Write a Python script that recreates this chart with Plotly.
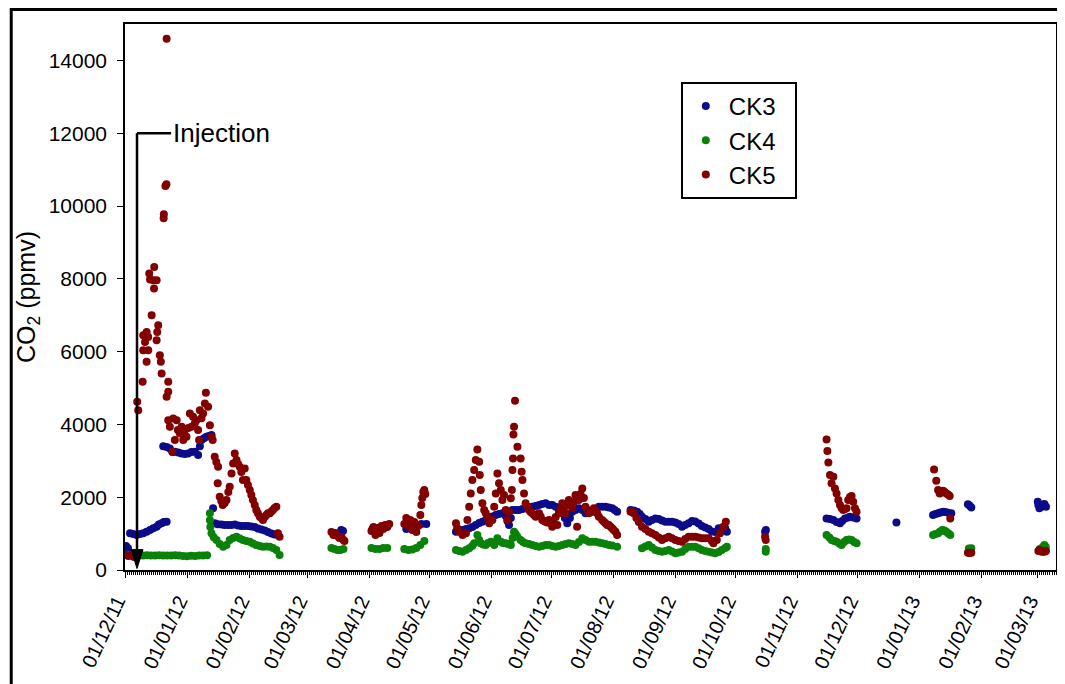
import pandas as pd
import plotly.graph_objects as go

# CO2 soil gas at CK3 / CK4 / CK5
# each point: (days after 01/12/2011, ppmv)
start = pd.Timestamp("2011-12-01")

ck3 = [
    (0.5, 660), (1.5, 600), (2.5, 1007), (4.1, 990), (5.8, 960), (7.5, 990), (9.1, 1007),
    (10.8, 1050), (12.5, 1098), (14.1, 1145), (15.8, 1189), (16.9, 1250), (18.3, 1281),
    (19.4, 1318), (20.8, 1327),
    (19.1, 3400), (20.8, 3376), (22.4, 3340), (23.7, 3240), (24.9, 3248), (26.6, 3225),
    (28.2, 3203), (29.9, 3185), (31.5, 3203), (33.2, 3240), (34.9, 3248), (36.5, 3157),
    (37.4, 3400), (38.2, 3569), (39.4, 3620), (40.7, 3660), (41.9, 3680), (43.2, 3706),
    (44.0, 1693), (44.8, 1281), (46.3, 1260), (48.2, 1250), (49.8, 1235), (51.5, 1235),
    (53.2, 1235), (54.8, 1250), (56.5, 1220), (58.1, 1208), (59.8, 1208), (61.4, 1208),
    (63.1, 1195), (64.8, 1180), (66.4, 1140), (68.1, 1110), (69.8, 1085), (71.4, 1043),
    (73.1, 1000), (74.7, 975), (76.4, 961),
    (108.0, 1098), (108.9, 1070),
    (123.6, 1125), (126.1, 1153), (128.5, 1180), (131.0, 1208),
    (140.5, 1125), (143.0, 1180), (145.5, 1208), (148.0, 1263), (150.5, 1263),
    (165.3, 1052), (166.9, 1070), (168.6, 1098), (170.3, 1125), (171.9, 1144), (173.5, 1180),
    (175.2, 1235), (176.9, 1290), (178.5, 1327), (180.2, 1373), (181.9, 1418), (183.5, 1470),
    (185.2, 1510), (186.8, 1537), (188.5, 1556), (190.2, 1482), (191.0, 1345), (191.8, 1235),
    (192.7, 1427), (193.5, 1647), (195.2, 1647), (196.8, 1647), (198.5, 1675), (200.1, 1693),
    (201.8, 1715), (203.4, 1738), (205.1, 1757), (206.8, 1784), (208.4, 1812), (210.1, 1831),
    (211.8, 1784), (213.4, 1784), (215.1, 1738), (216.7, 1647), (218.4, 1556), (219.7, 1427),
    (220.9, 1281), (222.2, 1427), (223.4, 1601), (225.0, 1647), (226.7, 1693), (228.4, 1647),
    (230.0, 1556), (231.7, 1578), (233.3, 1601), (235.0, 1675), (236.7, 1738), (238.3, 1738),
    (240.0, 1738), (241.7, 1715), (243.3, 1693), (244.6, 1647), (245.8, 1601),
    (252.5, 1647), (254.1, 1633), (255.8, 1601), (257.1, 1537), (258.2, 1464), (259.9, 1400),
    (261.6, 1327), (263.2, 1373), (264.9, 1418), (266.6, 1400), (268.2, 1360), (269.9, 1327),
    (271.6, 1327), (273.2, 1327), (274.9, 1305), (276.5, 1263), (278.2, 1189), (279.8, 1235),
    (281.5, 1281), (283.2, 1345), (284.8, 1330), (286.5, 1276), (288.1, 1208), (289.8, 1167),
    (291.5, 1125), (293.1, 1057), (294.8, 1043), (296.5, 1144), (298.1, 1144), (299.8, 1144),
    (300.6, 1052),
    (319.7, 1052), (320.1, 1098),
    (350.4, 1418), (352.1, 1400), (353.8, 1373), (355.4, 1318), (357.1, 1281), (358.2, 1345),
    (359.6, 1418), (361.2, 1441), (362.1, 1464), (363.7, 1441), (365.4, 1418),
    (385.3, 1308),
    (403.6, 1510), (404.8, 1537), (406.1, 1556), (407.3, 1578), (408.6, 1601), (409.8, 1592),
    (411.1, 1573), (412.7, 1556),
    (421.0, 1803), (421.8, 1770), (422.7, 1720),
    (455.9, 1875), (456.2, 1784), (456.7, 1693), (457.5, 1729), (458.4, 1784), (459.2, 1812),
    (460.0, 1738),
]

ck4 = [
    (1, 420), (3, 400), (5, 410), (7, 395), (9, 400), (11, 405), (13, 395), (15, 400),
    (17, 405), (19, 400), (21, 395), (23, 400), (25, 405), (27, 395), (29, 385), (31, 380),
    (33, 390), (35, 385), (37, 395), (39, 400), (41, 405),
    (42.4, 1560), (42.4, 1370), (42.6, 1180), (43.2, 1007), (44.3, 900), (45.7, 824),
    (47.3, 714), (49.0, 640), (50.7, 686), (52.3, 824), (54.0, 880), (55.7, 915), (57.3, 865),
    (58.9, 824), (60.6, 796), (62.3, 778), (63.9, 730), (65.6, 686), (67.3, 660), (68.9, 640),
    (70.6, 645), (72.3, 640), (73.9, 604), (75.6, 549), (77.2, 412),
    (103.1, 604), (104.6, 576), (106.1, 549), (107.6, 549), (109.1, 576),
    (123.1, 604), (125.1, 576), (127.1, 576), (129.0, 604), (131.0, 604),
    (139.5, 576), (141.5, 549), (143.5, 563), (145.5, 604), (147.5, 686), (149.5, 796),
    (165.3, 549), (166.9, 520), (168.6, 503), (170.3, 549), (171.9, 595), (173.4, 660),
    (174.4, 732), (176.0, 961), (176.9, 824), (177.7, 732), (178.9, 700), (180.2, 686),
    (181.4, 741), (182.7, 778), (184.4, 686), (186.0, 870), (187.7, 778), (188.8, 741),
    (190.2, 732), (191.3, 714), (192.7, 686), (193.6, 878), (194.3, 1052), (195.1, 988),
    (196.0, 915), (197.6, 824), (198.8, 769), (200.1, 732), (201.8, 714), (203.4, 686),
    (205.1, 660), (206.8, 640), (208.4, 660), (210.1, 686), (211.8, 686), (213.4, 660),
    (215.1, 640), (216.7, 660), (218.4, 686), (220.1, 714), (221.7, 732), (223.4, 714),
    (225.0, 686), (226.7, 769), (228.4, 870), (230.0, 824), (231.7, 778), (233.3, 778),
    (235.0, 778), (236.7, 755), (238.3, 732), (240.0, 714), (241.7, 686), (243.3, 673),
    (245.8, 640),
    (258.2, 595), (259.9, 645), (261.6, 686), (263.2, 618), (264.9, 549), (266.6, 522),
    (268.2, 503), (269.9, 522), (271.6, 549), (273.2, 508), (274.9, 458), (276.5, 480),
    (278.2, 503), (279.8, 576), (281.5, 640), (283.2, 640), (284.8, 640), (286.5, 595),
    (288.1, 549), (289.8, 522), (291.5, 503), (293.1, 480), (294.8, 458), (296.5, 494),
    (298.1, 549), (299.8, 604), (300.6, 640),
    (320.0, 503), (320.0, 576),
    (350.4, 961), (351.8, 892), (352.9, 824), (354.2, 796), (355.4, 778), (356.8, 727),
    (357.9, 686), (359.2, 769), (360.4, 824), (361.7, 837), (362.9, 824), (364.2, 769),
    (365.4, 732),
    (403.6, 961), (404.8, 988), (406.1, 1007), (407.1, 1057), (408.2, 1098), (409.3, 1085),
    (410.2, 1052), (411.3, 1002), (412.2, 961),
    (421.5, 590), (422.7, 595),
    (456.9, 576), (458.4, 631), (459.2, 686), (459.9, 631),
]

ck5 = [
    (0.5, 410), (1.7, 385), (3.3, 412), (4.5, 357),
    (6.1, 4620), (6.6, 4392), (8.8, 5169), (9.1, 6039), (9.1, 6451), (10.0, 6267),
    (10.8, 6541), (10.8, 5718), (11.6, 6404), (11.6, 6039), (12.1, 8144), (12.5, 7980),
    (13.3, 7000), (14.1, 7961), (14.6, 8326), (14.5, 7733), (15.8, 7961), (15.8, 6313),
    (16.1, 6541), (16.6, 6725), (17.4, 5902), (17.9, 5718), (18.3, 5400), (19.3, 9662),
    (19.4, 9772), (20.2, 10549), (20.7, 10595), (20.8, 14595), (20.8, 4757), (21.6, 5169),
    (21.6, 4894), (21.6, 4117), (22.4, 3934), (23.7, 3248), (24.1, 4164), (24.9, 3569),
    (25.8, 4117), (26.4, 3843), (27.4, 3752), (28.3, 3934), (29.1, 3569), (29.9, 3843),
    (30.7, 3660), (31.6, 3898), (32.4, 4301), (33.2, 3934), (34.0, 4209), (34.9, 4035),
    (35.7, 4117), (36.5, 3843), (37.0, 3569), (37.4, 4392), (38.2, 4172), (39.0, 4301),
    (39.9, 4576), (40.4, 4867), (41.5, 4484), (42.4, 3980), (43.2, 3660), (43.8, 3569),
    (44.8, 3110), (45.6, 2965), (46.5, 2836), (46.3, 2383), (47.3, 2012), (48.1, 1894),
    (48.8, 1784), (49.8, 1839), (50.7, 1921), (51.6, 2141), (52.3, 2287), (53.2, 2654),
    (54.0, 2929), (54.8, 3203), (55.7, 3020), (56.5, 2910), (57.3, 2836), (58.1, 2690),
    (58.9, 2471), (59.8, 2791), (60.6, 2471), (61.4, 2333), (62.3, 2196), (63.1, 2059),
    (63.9, 1921), (64.8, 1784), (65.6, 1647), (66.4, 1556), (67.3, 1464), (68.1, 1427),
    (68.9, 1373), (69.8, 1455), (70.6, 1510), (71.4, 1556), (72.3, 1556), (73.1, 1606),
    (73.9, 1647), (74.7, 1702), (75.6, 1738), (76.4, 1007), (77.2, 915),
    (103.1, 1043), (104.1, 961), (105.1, 1016), (106.1, 933), (107.1, 878), (108.1, 906),
    (109.1, 824), (109.6, 796),
    (123.1, 1070), (124.1, 1180), (125.1, 961), (126.1, 1098), (127.1, 1016), (128.1, 1208),
    (129.0, 1125), (130.0, 1235), (131.0, 1180), (132.0, 1263),
    (139.5, 1263), (140.5, 1427), (141.5, 1208), (142.5, 1373), (143.5, 1098), (144.5, 1318),
    (145.5, 1043), (146.5, 1208), (147.5, 1510), (148.0, 1784), (148.5, 1976), (149.0, 2141),
    (149.5, 2196), (150.0, 2086),
    (165.3, 1281), (165.9, 1153), (166.9, 1052), (168.6, 961), (170.3, 1007), (171.0, 1373),
    (171.9, 1738), (172.7, 2105), (173.5, 2471), (174.4, 2745), (175.2, 3020), (176.0, 3313),
    (176.9, 2973), (177.2, 2608), (177.7, 2196), (178.5, 1831), (179.4, 1647), (180.2, 1556),
    (181.0, 1464), (181.9, 1281), (183.5, 1373), (184.4, 1738), (185.2, 2105), (186.0, 2654),
    (186.8, 2380), (187.7, 2196), (188.5, 1921), (189.3, 2059), (190.2, 1647), (191.0, 1373),
    (191.8, 1592), (192.7, 1968), (193.2, 2196), (193.5, 2745), (193.8, 3066), (194.0, 3725),
    (194.3, 3934), (194.8, 4648), (196.0, 3385), (197.6, 3066), (198.1, 2700), (198.5, 2471),
    (199.3, 2105), (200.1, 1831), (201.0, 1729), (201.8, 1647), (202.6, 1592), (203.4, 1556),
    (204.3, 1510), (205.1, 1464), (205.9, 1510), (206.8, 1556), (207.6, 1468), (208.4, 1373),
    (209.3, 1345), (210.1, 1327), (210.9, 1305), (211.8, 1373), (212.6, 1281), (213.4, 1189),
    (214.3, 1281), (215.1, 1455), (215.9, 1235), (216.7, 1556), (217.6, 1702), (218.4, 1831),
    (219.2, 1702), (220.1, 1556), (220.9, 1784), (221.7, 1921), (222.5, 1812), (223.4, 1693),
    (224.2, 1867), (225.0, 2059), (225.8, 1189), (226.7, 1921), (227.5, 2086), (228.4, 2242),
    (229.2, 1976), (230.0, 1738), (230.9, 1647), (231.7, 1556), (232.9, 1620), (234.2, 1693),
    (235.0, 1620), (235.8, 1556), (236.7, 1464), (238.3, 1373), (239.2, 1327), (240.0, 1281),
    (240.8, 1235), (241.7, 1235), (242.5, 1189), (243.3, 1144), (244.1, 1098), (245.0, 1052),
    (245.8, 961),
    (252.5, 1601), (253.3, 1592), (254.1, 1556), (255.4, 1427), (256.6, 1318), (258.2, 1189),
    (259.9, 1125), (261.6, 1052), (263.2, 1007), (264.9, 961), (266.6, 892), (268.2, 824),
    (269.9, 870), (271.6, 915), (273.2, 870), (274.9, 824), (276.5, 796), (278.2, 778),
    (279.8, 851), (281.5, 915), (283.2, 915), (284.8, 915), (286.5, 892), (288.1, 870),
    (289.8, 870), (291.5, 870), (293.1, 796), (293.9, 732), (295.6, 824), (297.2, 1007),
    (298.9, 1189), (300.1, 1327),
    (319.7, 915), (320.0, 824),
    (350.4, 3587), (350.8, 3267), (351.3, 2956), (352.1, 2608), (352.9, 2380), (353.8, 2562),
    (354.6, 2242), (355.4, 2105), (356.3, 1921), (357.1, 1784), (357.9, 1702), (358.7, 1647),
    (359.6, 1675), (360.4, 1693), (361.2, 1921), (362.1, 2004), (362.9, 2031), (363.7, 1875),
    (364.6, 1693), (365.4, 1601),
    (404.1, 2764), (405.2, 2452), (406.1, 2196), (406.9, 2105), (407.7, 2168), (408.6, 2177),
    (409.4, 2141), (410.2, 2105), (411.1, 2072), (411.9, 2031), (412.2, 1418),
    (421.0, 476), (421.8, 467), (422.7, 476),
    (456.2, 522), (456.7, 549), (457.6, 508), (458.4, 503), (459.2, 503), (460.0, 522),
]

series = [("CK3", ck3, "#0c0c8a"), ("CK4", ck4, "#0a820a"), ("CK5", ck5, "#820000")]

font = "Arial, Liberation Sans, sans-serif"
pad = "\u00a0\u00a0"  # widens the legend box a little


def to_dates(days):
    return start + pd.to_timedelta(list(days), unit="D")


fig = go.Figure()
for name, pts, col in series:
    d, v = zip(*pts)
    fig.add_trace(
        go.Scatter(
            x=to_dates(d),
            y=list(v),
            mode="markers",
            name=name + pad,
            marker=dict(size=8, color=col),
        )
    )

# injection marker: bracket line + arrow down to the axis
inj = start + pd.Timedelta(days=6)
inj_end = start + pd.Timedelta(days=23)
fig.add_shape(type="line", x0=inj, x1=inj, y0=12000, y1=520,
              line=dict(color="black", width=2.5))
fig.add_shape(type="line", x0=inj, x1=inj_end, y0=12000, y1=12000,
              line=dict(color="black", width=2.5))
fig.add_shape(
    type="path",
    path="M {a},560 L {b},560 L {c},40 Z".format(
        a=(inj - pd.Timedelta(days=3)).strftime("%Y-%m-%d_%H:%M"),
        b=(inj + pd.Timedelta(days=3)).strftime("%Y-%m-%d_%H:%M"),
        c=inj.strftime("%Y-%m-%d_%H:%M"),
    ),
    fillcolor="black",
    line=dict(color="black", width=1),
)
fig.add_annotation(x=inj_end + pd.Timedelta(days=0.2), y=12000, text="Injection",
                   showarrow=False, xanchor="left", yanchor="middle",
                   font=dict(size=26, family=font, color="black"))

# outer frame around the whole figure
fig.add_shape(type="rect", xref="paper", yref="paper",
              x0=-0.1222, x1=1.0043, y0=-0.3, y1=1.0266,
              line=dict(color="black", width=3))

fig.update_xaxes(
    type="date",
    range=[start, start + pd.Timedelta(days=465)],
    tick0=start,
    dtick="M1",
    tickformat="%d/%m/%y",
    tickangle=-65,
    tickfont=dict(size=20),
    ticks="outside",
    ticklen=6,
    tickcolor="black",
    ticklabelstandoff=4,
    ticklabelshift=-8,
    minor=dict(dtick=86400000, ticks="outside", ticklen=3, tickcolor="black"),
    showline=True,
    linecolor="black",
    linewidth=1.5,
    mirror=True,
    showgrid=False,
    zeroline=False,
)
fig.update_yaxes(
    range=[0, 15000],
    dtick=2000,
    tickformat="d",
    tickfont=dict(size=21),
    ticks="outside",
    ticklen=6,
    tickcolor="black",
    ticklabelstandoff=6,
    showline=True,
    linecolor="black",
    linewidth=1.5,
    mirror=True,
    showgrid=False,
    zeroline=False,
    title=dict(text="CO<sub>2</sub> (ppmv)", font=dict(size=25, family=font), standoff=6),
)

# the page puts the figure 8 px in from the corner, so it is 8 px smaller
fig.update_layout(
    width=1057,
    height=676,
    margin=dict(l=117, r=7, t=16, b=114),
    plot_bgcolor="white",
    paper_bgcolor="white",
    font=dict(family=font, color="black"),
    legend=dict(
        x=0.597, y=0.894, xanchor="left", yanchor="top",
        bordercolor="black", borderwidth=2,
        font=dict(size=24),
        itemwidth=36,
        bgcolor="white",
    ),
)

fig.write_html("out.html")
